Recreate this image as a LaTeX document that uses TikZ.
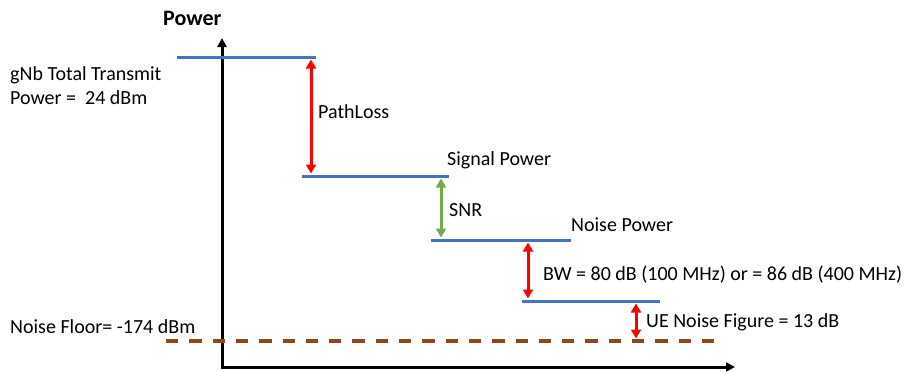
\documentclass[tikz,border=0pt]{standalone}
\usepackage{fontspec}
\setmainfont{Carlito}
\usetikzlibrary{arrows.meta}
\definecolor{lvblue}{RGB}{68,114,196}
\definecolor{lvred}{RGB}{255,0,0}
\definecolor{lvgreen}{RGB}{112,173,71}
\definecolor{lvbrown}{RGB}{140,72,28}
\tikzset{
  level/.style={draw=lvblue, line width=3pt},
  axisline/.style={draw=black, line width=3pt, -{Triangle[length=9pt,width=9pt]}},
  gap/.style={line width=3pt, {Triangle[length=9pt,width=10pt]}-{Triangle[length=9pt,width=10pt]}, shorten <=1pt, shorten >=1pt},
  lbl/.style={anchor=base west, inner sep=0pt, font=\fontsize{20}{22}\selectfont},
  floor/.style={draw=lvbrown, line width=3.2pt, dash pattern=on 12.3pt off 11pt},
}
\begin{document}
\begin{tikzpicture}[x=1pt,y=-1pt]
\useasboundingbox (0,0) rectangle (907,372);
% axes
\coordinate (o) at (222,367);
\coordinate (ytop) at (222,38);
\coordinate (xend) at (735,367);
\draw[axisline] (222,368.5) -- (ytop);
\draw[axisline] (220.5,367) -- (xend);
\node[lbl, font=\bfseries\fontsize{22}{24}\selectfont] (power) at (163,25) {Power};
% levels
\coordinate (t1) at (177,57); \coordinate (t2) at (316,57);
\coordinate (s1) at (302,176); \coordinate (s2) at (449,176);
\coordinate (n1) at (431,240); \coordinate (n2) at (571,240);
\coordinate (b1) at (522,301); \coordinate (b2) at (660,301);
\coordinate (f1) at (166,341); \coordinate (f2) at (715,341);
\draw[level] (t1) -- (t2);
\draw[level] (s1) -- (s2);
\draw[level] (n1) -- (n2);
\draw[level] (b1) -- (b2);
\draw[floor] (f1) -- (f2);
% gap arrows
\coordinate (pa) at (311,58.5); \coordinate (pb) at (311,174.5);
\coordinate (sa) at (441,177.5); \coordinate (sb) at (441,238.5);
\coordinate (ba) at (528,241.5); \coordinate (bb) at (528,299.5);
\coordinate (ua) at (636,302.5); \coordinate (ub) at (636,339.5);
\draw[gap, draw=lvred, fill=lvred] (pa) -- (pb);
\draw[gap, draw=lvgreen, fill=lvgreen] (sa) -- (sb);
\draw[gap, draw=lvred, fill=lvred] (ba) -- (bb);
\draw[gap, draw=lvred, fill=lvred] (ua) -- (ub);
% labels
\node[lbl] (gnb) at (10,80) {gNb Total Transmit};
\node[lbl] (gnb2) at (10,104) {Power =\ \ 24 dBm};
\node[lbl] (pl) at (318,118) {PathLoss};
\node[lbl] (sp) at (447,165) {Signal Power};
\node[lbl] (snr) at (449,216) {SNR};
\node[lbl] (np) at (571,231) {Noise Power};
\node[lbl] (bw) at (543,280) {BW = 80 dB (100 MHz) or = 86 dB (400 MHz)};
\node[lbl] (ue) at (646,327) {UE Noise Figure = 13 dB};
\node[lbl] (nf) at (10,333) {Noise Floor= -174 dBm};
\end{tikzpicture}
\end{document}
